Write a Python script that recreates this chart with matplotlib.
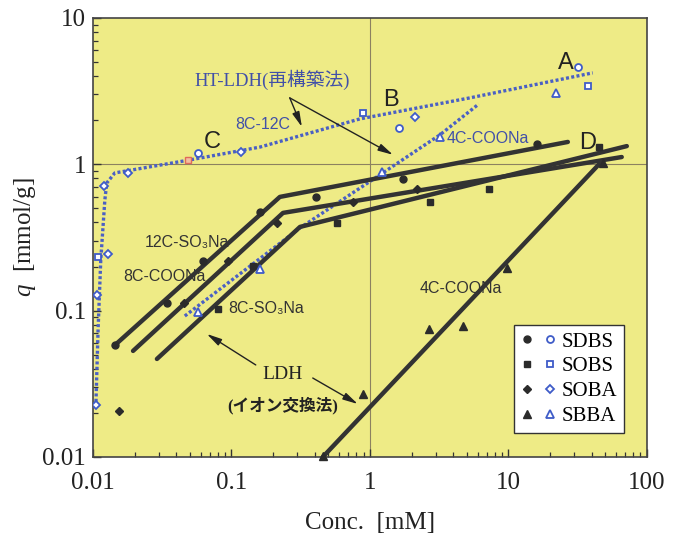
import matplotlib
matplotlib.use("Agg")
import matplotlib.pyplot as plt
from matplotlib.legend_handler import HandlerTuple

plt.rcParams["mathtext.fontset"] = "custom"
plt.rcParams["mathtext.rm"] = "Liberation Serif"
plt.rcParams["mathtext.it"] = "Liberation Serif:italic"

SERIF = ["Liberation Serif", "Noto Sans CJK JP"]
SANS = ["Liberation Sans", "DejaVu Sans"]

# --- LDH (ion exchange), filled symbols ---
sdbs_x = [0.0144, 0.0342, 0.0622, 0.161, 0.407, 1.73, 16.1]
sdbs_q = [0.0582, 0.113, 0.218, 0.472, 0.598, 0.793, 1.38]
sobs_x = [0.0799, 0.143, 0.578, 2.71, 7.23, 45.0]
sobs_q = [0.1025, 0.202, 0.397, 0.552, 0.678, 1.31]
soba_x = [0.0154, 0.0454, 0.0944, 0.213, 0.753, 2.18]
soba_q = [0.0206, 0.113, 0.218, 0.397, 0.552, 0.678]
sbba_x = [0.46, 0.889, 2.67, 4.69, 9.75, 48.1]
sbba_q = [0.0102, 0.0269, 0.0748, 0.0785, 0.195, 1.02]

# fitted isotherms (LDH)
sdbs_fit_x = [0.0142, 0.224, 26.9]
sdbs_fit_q = [0.0573, 0.598, 1.42]
soba_fit_x = [0.0195, 0.236, 65.9]
soba_fit_q = [0.053, 0.465, 1.12]
sobs_fit_x = [0.029, 0.313, 71.7]
sobs_fit_q = [0.0467, 0.373, 1.33]
sbba_fit_x = [0.458, 47.0]
sbba_fit_q = [0.01, 1.04]

# --- HT-LDH (reconstruction), open symbols ---
ht_sdbs_x = [0.0573, 1.62, 31.8]
ht_sdbs_q = [1.19, 1.77, 4.62]
ht_sobs_x = [0.0109, 0.889, 37.5]
ht_sobs_q = [0.232, 2.24, 3.43]
ht_sobs_red_x = [0.0485]
ht_sobs_red_q = [1.07]
ht_soba_x = [0.0105, 0.0107, 0.0128, 0.0120, 0.0179, 0.117, 2.11]
ht_soba_q = [0.0226, 0.128, 0.244, 0.711, 0.872, 1.21, 2.11]
ht_sbba_x = [0.0573, 0.161, 1.22, 3.2, 22.0]
ht_sbba_q = [0.0978, 0.192, 0.886, 1.54, 3.07]

# HT-LDH trend curves
ht_long_x = [0.0105, 0.0109, 0.0114, 0.0122, 0.0126, 0.0144, 0.0501, 0.161, 0.847, 5.27, 40.7]
ht_long_q = [0.0219, 0.0737, 0.222, 0.570, 0.745, 0.872, 1.07, 1.31, 2.04, 2.84, 4.21]
ht_c4_x = [0.0461, 0.313, 1.24, 3.2, 6.12]
ht_c4_q = [0.0918, 0.367, 0.872, 1.585, 2.58]

legend_labels = ["SDBS", "SOBS", "SOBA", "SBBA"]

BLACK = "#2b2b2b"
BLUE = "#3f5cc8"
DOTS = "#4a60c4"
TEXT_BLUE = "#4150a8"

fig = plt.figure(figsize=(6.78, 5.42), dpi=100)
ax = fig.add_axes([0.137, 0.157, 0.817, 0.81])
ax.set_facecolor("#eeeb86")
ax.set_xscale("log")
ax.set_yscale("log")
ax.set_xlim(0.01, 100)
ax.set_ylim(0.01, 10)

ax.axvline(1, color="#8c8160", lw=0.8, zorder=1)
ax.axhline(1, color="#8c8160", lw=0.8, zorder=1)

# fitted lines
for fx, fq in [(sdbs_fit_x, sdbs_fit_q), (soba_fit_x, soba_fit_q),
               (sobs_fit_x, sobs_fit_q), (sbba_fit_x, sbba_fit_q)]:
    ax.plot(fx, fq, color="#333333", lw=3.2, solid_capstyle="round", zorder=3)

dot_style = dict(color=DOTS, lw=2.4, linestyle=(0, (0.9, 0.7)),
                 dash_capstyle="butt", zorder=2)
ax.plot(ht_long_x, ht_long_q, **dot_style)
ax.plot(ht_c4_x, ht_c4_q, **dot_style)

filled = dict(ls="none", color=BLACK, zorder=4)
h_sdbs, = ax.plot(sdbs_x, sdbs_q, marker="o", ms=5, **filled)
h_sobs, = ax.plot(sobs_x, sobs_q, marker="s", ms=5, **filled)
h_soba, = ax.plot(soba_x, soba_q, marker="D", ms=4.5, **filled)
h_sbba, = ax.plot(sbba_x, sbba_q, marker="^", ms=6, clip_on=False, **filled)

hollow = dict(ls="none", mfc="white", mec=BLUE, mew=1.3, zorder=5)
o_sdbs, = ax.plot(ht_sdbs_x, ht_sdbs_q, marker="o", ms=5, **hollow)
o_sobs, = ax.plot(ht_sobs_x, ht_sobs_q, marker="s", ms=5, **hollow)
o_soba, = ax.plot(ht_soba_x, ht_soba_q, marker="D", ms=4.5, **hollow)
o_sbba, = ax.plot(ht_sbba_x, ht_sbba_q, marker="^", ms=6, **hollow)
ax.plot(ht_sobs_red_x, ht_sobs_red_q, ls="none", marker="s", ms=5,
        mfc="#f3c0a0", mec="#e06a5a", mew=1.0, zorder=5)

# annotations
for s, x, y in [("A", 26.0, 4.92), ("B", 1.42, 2.75), ("C", 0.0723, 1.42), ("D", 37.5, 1.40)]:
    ax.text(x, y, s, fontsize=17, family=SANS, color="#222222",
            ha="center", va="center", zorder=6)

ax.text(0.196, 3.77, "HT-LDH(再構築法)", fontsize=13.5, family=SERIF,
        color=TEXT_BLUE, ha="center", va="center", zorder=6)
ax.text(0.169, 1.86, "8C-12C", fontsize=11.5, family=SANS, color=TEXT_BLUE,
        ha="center", va="center", zorder=6)
ax.text(3.6, 1.51, "4C-COONa", fontsize=11.5, family=SANS, color=TEXT_BLUE,
        ha="left", va="center", zorder=6)
ax.text(0.0477, 0.294, "12C-SO₃Na", fontsize=11.5, family=SANS, color="#333333",
        ha="center", va="center", zorder=6)
ax.text(0.0331, 0.170, "8C-COONa", fontsize=11.5, family=SANS, color="#333333",
        ha="center", va="center", zorder=6)
ax.text(0.0944, 0.104, "8C-SO₃Na", fontsize=11.5, family=SANS, color="#333333",
        ha="left", va="center", zorder=6)
ax.text(4.54, 0.1405, "4C-COONa", fontsize=11.5, family=SANS, color="#333333",
        ha="center", va="center", zorder=6)
ax.text(0.236, 0.0363, "LDH", fontsize=14, family=SERIF, color="#222222",
        ha="center", va="center", zorder=6)
ax.text(0.236, 0.0226, "(イオン交換法)", fontsize=12, family=SERIF, color="#222222",
        weight="bold", ha="center", va="center", zorder=6)

arrow = dict(arrowstyle="-|>,head_length=0.9,head_width=0.22", lw=1.0,
             color="#222222", shrinkA=0, shrinkB=0)
for tail, head in [((0.264, 2.84), (0.323, 1.80)), ((0.264, 2.84), (1.47, 1.16)),
                   ((0.150, 0.0425), (0.0665, 0.0692)), ((0.387, 0.0346), (0.818, 0.023))]:
    ax.annotate("", xy=head, xytext=tail, arrowprops=arrow, zorder=6)

# axes styling
ax.set_xticks([0.01, 0.1, 1, 10, 100], ["0.01", "0.1", "1", "10", "100"])
ax.set_yticks([0.01, 0.1, 1, 10], ["0.01", "0.1", "1", "10"])
ax.tick_params(which="both", direction="in", top=False, right=False, colors="#333333")
ax.tick_params(which="major", length=6, width=1.0, labelsize=18)
ax.tick_params(axis="x", which="major", pad=11)
ax.tick_params(axis="y", which="major", pad=5)
ax.tick_params(which="minor", length=3.5, width=0.9)
for lab in ax.get_xticklabels() + ax.get_yticklabels():
    lab.set_family(SERIF)
    lab.set_color("#222222")
for sp in ax.spines.values():
    sp.set_color("#444444")
    sp.set_linewidth(1.2)

ax.set_xlabel("Conc.  [mM]", fontsize=18, family=SERIF, color="#222222", labelpad=13)
ax.set_ylabel("$q$  [mmol/g]", fontsize=18, family=SERIF, color="#222222", labelpad=3)

leg = ax.legend([(h_sdbs, o_sdbs), (h_sobs, o_sobs), (h_soba, o_soba), (h_sbba, o_sbba)],
                legend_labels, handler_map={tuple: HandlerTuple(ndivide=None, pad=0.6)},
                loc="lower right", bbox_to_anchor=(0.978, 0.03), frameon=True,
                fancybox=False, framealpha=1, edgecolor="#333333",
                prop={"family": SERIF, "size": 15}, handlelength=1.6,
                handletextpad=0.3, labelspacing=0.25, borderpad=0.35)
leg.get_frame().set_linewidth(1.0)

fig.savefig("out.png", dpi=100)
